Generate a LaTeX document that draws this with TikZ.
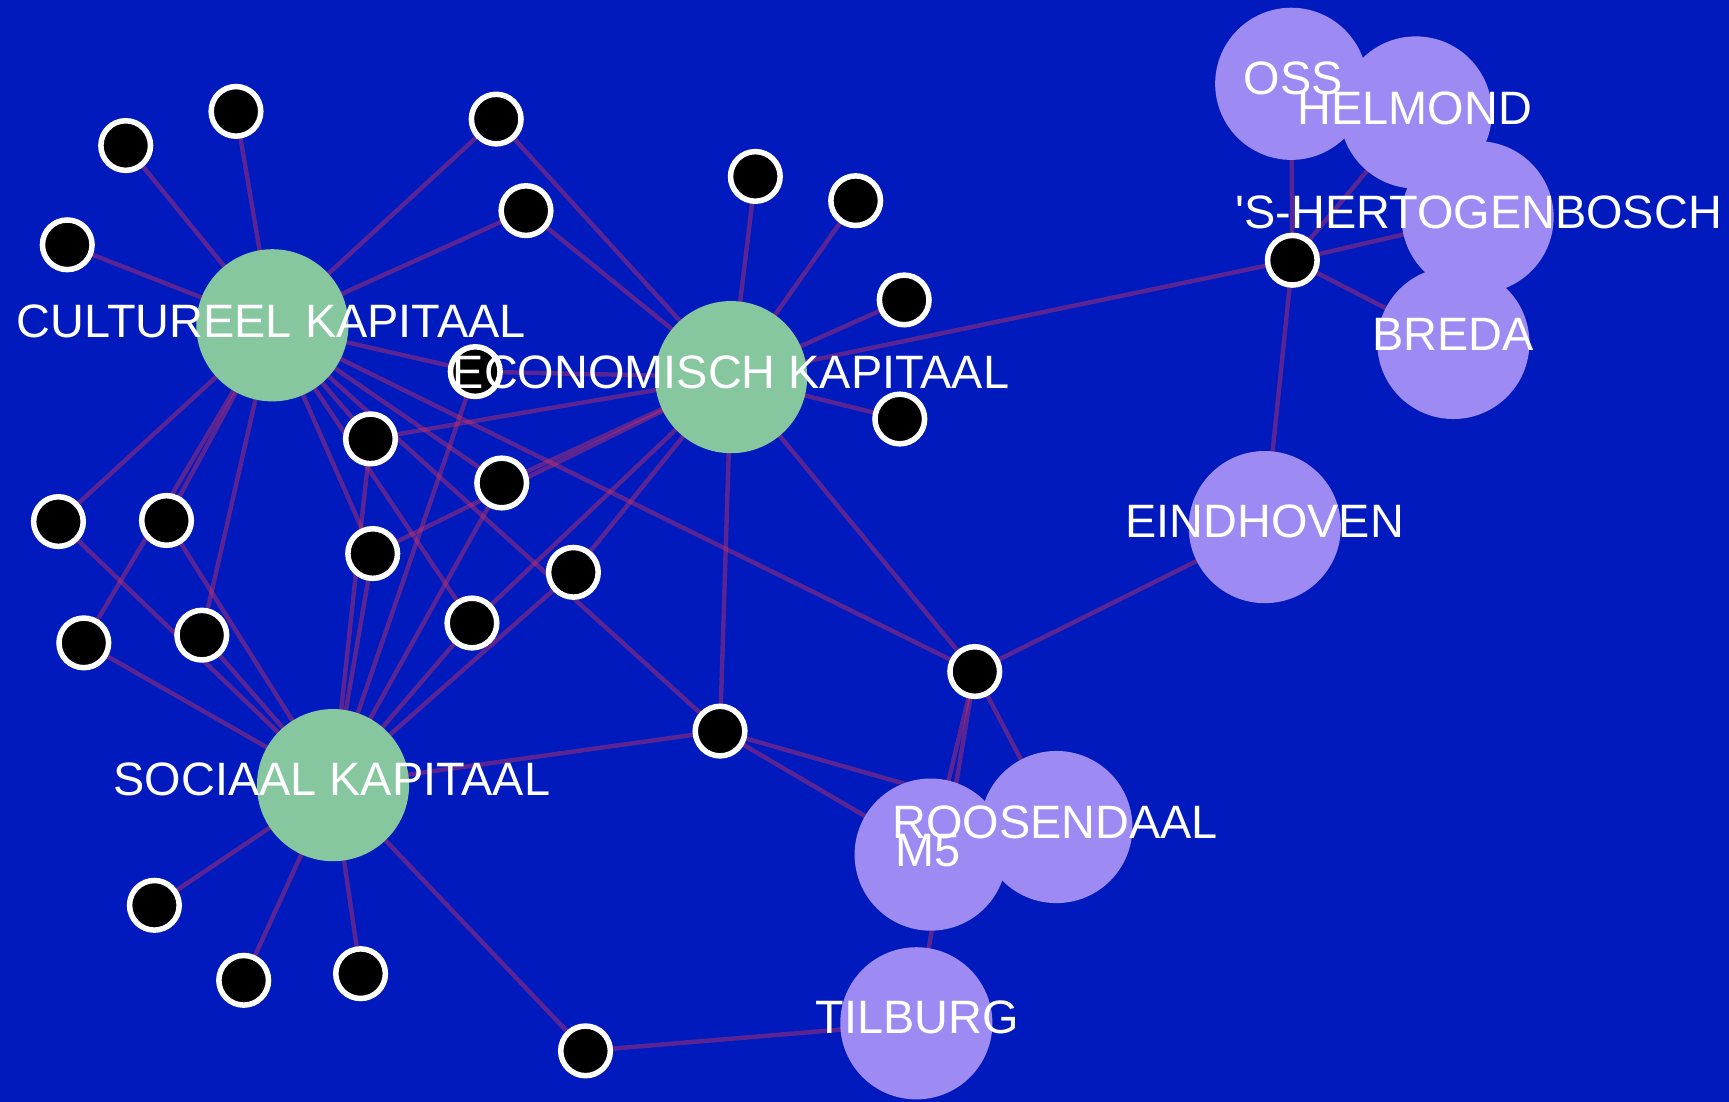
\documentclass[tikz,border=0pt]{standalone}
\usepackage{fontspec}
\setmainfont{Liberation Sans}
\newfontfamily\labfont{Liberation Sans}
\pgfdeclarelayer{bg}
\pgfsetlayers{bg,main}
\definecolor{bgblue}{RGB}{0,26,189}
\definecolor{kgreen}{RGB}{134,199,160}
\definecolor{cpurple}{RGB}{158,138,243}
\definecolor{edgecol}{RGB}{200,50,100}
\tikzset{
  bignode/.style={circle, minimum size=138pt, inner sep=0pt, draw=none},
  capnode/.style={bignode, fill=kgreen},
  citynode/.style={bignode, fill=cpurple},
  dotnode/.style={circle, minimum size=45pt, inner sep=0pt, fill=black, draw=white, line width=5pt},
  labnode/.style={text=white, inner sep=0pt, font=\labfont\fontsize{42.5}{42.5}\selectfont},
  edgeline/.style={draw=edgecol, line width=4pt, opacity=0.45}
}
\begin{document}
\begin{tikzpicture}[x=1pt,y=-1pt]
\begin{pgfonlayer}{bg}
\fill[bgblue] (0,0) rectangle (1568,999);
\end{pgfonlayer}
\useasboundingbox (0,0) rectangle (1568,999);
% capitals
\node[capnode] (CK) at (247,295) {};
\node[capnode] (EK) at (663,342) {};
\node[capnode] (SK) at (302,712) {};
% cities
\node[citynode] (BREDA) at (1318,311) {};
\node[citynode] (SH) at (1340,197) {};
\node[citynode] (OSS) at (1171,76) {};
\node[citynode] (HEL) at (1284,102) {};
\node[citynode] (EIN) at (1147,478) {};
\node[citynode] (ROO) at (958,750) {};
\node[citynode] (M5) at (844,775) {};
\node[citynode] (TIL) at (831,928) {};
% small nodes
\node[dotnode] (n1) at (114,132) {};
\node[dotnode] (n2) at (214,101) {};
\node[dotnode] (n3) at (450,108) {};
\node[dotnode] (n4) at (61,222) {};
\node[dotnode] (n5) at (477,191) {};
\node[dotnode] (n6) at (685,160) {};
\node[dotnode] (n7) at (776,182) {};
\node[dotnode] (n8) at (820,272) {};
\node[dotnode] (n9) at (431,337) {};
\node[dotnode] (n10) at (816,380) {};
\node[dotnode] (n11) at (336,398) {};
\node[dotnode] (n12) at (455,438) {};
\node[dotnode] (n13) at (53,473) {};
\node[dotnode] (n14) at (151,472) {};
\node[dotnode] (n15) at (338,502) {};
\node[dotnode] (n16) at (520,519) {};
\node[dotnode] (n17) at (76,583) {};
\node[dotnode] (n18) at (183,576) {};
\node[dotnode] (n19) at (428,565) {};
\node[dotnode] (n20) at (884,609) {};
\node[dotnode] (n21) at (653,663) {};
\node[dotnode] (n22) at (1172,236) {};
\node[dotnode] (n23) at (140,821) {};
\node[dotnode] (n24) at (221,889) {};
\node[dotnode] (n25) at (327,883) {};
\node[dotnode] (n26) at (531,953) {};
% labels
\node[labnode] (CKl) at (246,291) {CULTUREEL KAPITAAL};
\node[labnode] (EKl) at (663,338) {ECONOMISCH KAPITAAL};
\node[labnode] (SKl) at (301,707) {SOCIAAL KAPITAAL};
\node[labnode] (OSSl) at (1173,71) {OSS};
\node[labnode] (HELl) at (1283,98) {HELMOND};
\node[labnode] (SHl) at (1341,193) {'S-HERTOGENBOSCH};
\node[labnode] (BREDAl) at (1318,303) {BREDA};
\node[labnode] (EINl) at (1147,473) {EINDHOVEN};
\node[labnode] (ROOl) at (957,746) {ROOSENDAAL};
\node[labnode, anchor=west] (M5l) at (812,771) {M5};
\node[labnode] (TILl) at (832,923) {TILBURG};
% edges
\begin{pgfonlayer}{bg}
\foreach \t in {n1,n2,n3,n4,n5,n9,n11,n12,n13,n14,n15,n17,n18,n19,n20,n21}
  \draw[edgeline] (CK.center) -- (\t.center);
\foreach \t in {n3,n5,n6,n7,n8,n9,n10,n11,n12,n15,n16,n19,n20,n21,n22}
  \draw[edgeline] (EK.center) -- (\t.center);
\foreach \t in {n9,n11,n12,n13,n14,n15,n16,n17,n18,n19,n21,n23,n24,n25,n26}
  \draw[edgeline] (SK.center) -- (\t.center);
\foreach \t in {OSS,HEL,SH,BREDA,EIN}
  \draw[edgeline] (n22.center) -- (\t.center);
\foreach \t in {EIN,M5,TIL,ROO}
  \draw[edgeline] (n20.center) -- (\t.center);
\foreach \t in {M5,ROO}
  \draw[edgeline] (n21.center) -- (\t.center);
\draw[edgeline] (n26.center) -- (TIL.center);
\end{pgfonlayer}
\end{tikzpicture}
\end{document}
